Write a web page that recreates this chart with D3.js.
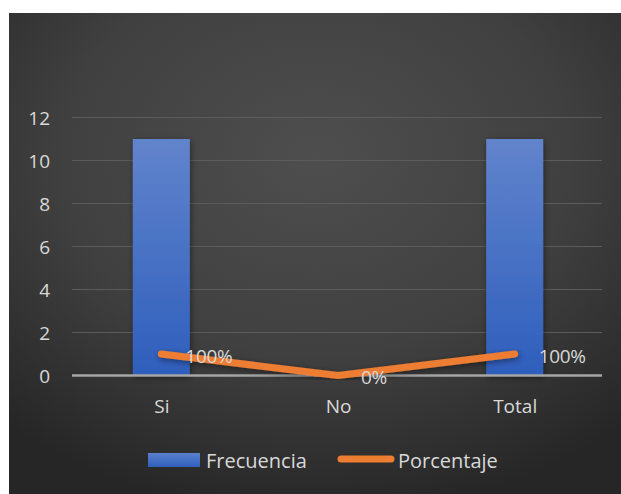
<!DOCTYPE html>
<html>
<head>
<meta charset="utf-8">
<script src="https://cdn.jsdelivr.net/npm/d3@7"></script>
<style>
  html, body { margin: 0; padding: 0; background: #ffffff; }
  svg { display: block; }
  text { font-family: "Open Sans", "Noto Sans", "DejaVu Sans", sans-serif; }
</style>
</head>
<body>
<svg id="chart" width="621" height="494"></svg>
<script>
// Data
const categories = ["Si", "No", "Total"];
const frecuencia = [11, 0, 11];
const porcentaje = [1, 0, 1];
const porcentajeLabels = ["100%", "0%", "100%"];
const yTicks = [0, 2, 4, 6, 8, 10, 12];
const seriesNames = ["Frecuencia", "Porcentaje"];

const svg = d3.select("#chart");
const W = 621, H = 494;

const defs = svg.append("defs");

// Background panel gradient: lighter in the upper middle, darker at the edges
const bg = defs.append("radialGradient").attr("id", "bgGrad")
  .attr("cx", "0.5").attr("cy", "0.3").attr("r", "0.75");
bg.append("stop").attr("offset", "0%").attr("stop-color", "#4e4e4e");
bg.append("stop").attr("offset", "55%").attr("stop-color", "#404040");
bg.append("stop").attr("offset", "100%").attr("stop-color", "#262626");

// Bar fill gradient
const barGrad = defs.append("linearGradient").attr("id", "barGrad")
  .attr("x1", 0).attr("y1", 0).attr("x2", 0).attr("y2", 1);
barGrad.append("stop").attr("offset", "0%").attr("stop-color", "#6184cc");
barGrad.append("stop").attr("offset", "100%").attr("stop-color", "#2e5ebc");

const legGrad = defs.append("linearGradient").attr("id", "legGrad")
  .attr("x1", 0).attr("y1", 0).attr("x2", 0).attr("y2", 1);
legGrad.append("stop").attr("offset", "0%").attr("stop-color", "#5b80cb");
legGrad.append("stop").attr("offset", "100%").attr("stop-color", "#2f5fbd");

// Soft drop shadow under marks
const sh = defs.append("filter").attr("id", "shadow")
  .attr("x", "-20%").attr("y", "-20%").attr("width", "140%").attr("height", "140%");
sh.append("feDropShadow").attr("dx", 1).attr("dy", 2).attr("stdDeviation", 3)
  .attr("flood-color", "#000").attr("flood-opacity", 0.45);

svg.append("rect").attr("x", 9).attr("y", 13).attr("width", W - 9).attr("height", H - 13)
  .attr("fill", "url(#bgGrad)");

// Scales
const plot = { left: 73, right: 603, top: 117.5, bottom: 375.5 };
const xc = d3.scalePoint().domain(categories).range([plot.left, plot.right]).padding(0.5);
const y = d3.scaleLinear().domain([0, 12]).range([plot.bottom, plot.top]);

// Gridlines
svg.append("g")
  .selectAll("line").data(yTicks.filter(d => d > 0)).join("line")
  .attr("x1", plot.left - 1).attr("x2", plot.right - 1)
  .attr("y1", d => y(d)).attr("y2", d => y(d))
  .attr("stroke", "#5c5c5c").attr("stroke-width", 1);

// Y axis labels
const yAxis = d3.axisLeft(y).tickValues(yTicks).tickSize(0).tickPadding(0);
const yg = svg.append("g").attr("transform", `translate(50,0)`).call(yAxis);
yg.select(".domain").remove();
yg.selectAll("text").attr("fill", "#d9d9d9").attr("font-size", 19).attr("text-anchor", "end").attr("dy", "0.35em");

// Bars
const bw = 57;
svg.append("g").selectAll("rect").data(categories).join("rect")
  .attr("x", (d, i) => xc(d) - bw / 2)
  .attr("y", (d, i) => y(frecuencia[i]))
  .attr("width", bw)
  .attr("height", (d, i) => y(0) - y(frecuencia[i]))
  .attr("fill", "url(#barGrad)")
  .attr("filter", "url(#shadow)");

// Baseline axis
svg.append("line").attr("x1", plot.left - 1).attr("x2", plot.right - 1)
  .attr("y1", y(0)).attr("y2", y(0))
  .attr("stroke", "#a6a6a6").attr("stroke-width", 2.5);

// X axis labels
const xAxis = d3.axisBottom(xc).tickSize(0).tickPadding(0);
const xg = svg.append("g").attr("transform", `translate(0,${y(0) + 31})`).call(xAxis);
xg.select(".domain").remove();
xg.selectAll("text").attr("fill", "#d9d9d9").attr("font-size", 19).attr("dy", "0.35em");

// Percentage line
const line = d3.line().x((d, i) => xc(categories[i])).y(d => y(d));
svg.append("path").datum(porcentaje)
  .attr("d", line)
  .attr("fill", "none").attr("stroke", "#ed7d31").attr("stroke-width", 7)
  .attr("stroke-linecap", "round").attr("stroke-linejoin", "round")
  .attr("filter", "url(#shadow)");

// Percentage labels
svg.append("g").selectAll("text").data(porcentaje).join("text")
  .attr("x", (d, i) => xc(categories[i]) + (d === 0 ? 23 : 24))
  .attr("y", (d, i) => y(d) + 2)
  .attr("dy", "0.35em")
  .attr("fill", "#d9d9d9").attr("font-size", 19)
  .attr("letter-spacing", -0.3)
  .text((d, i) => porcentajeLabels[i]);

// Legend
const leg = svg.append("g");
leg.append("rect").attr("x", 148).attr("y", 453).attr("width", 52).attr("height", 14)
  .attr("fill", "url(#legGrad)");
leg.append("text").attr("x", 206).attr("y", 461).attr("dy", "0.35em")
  .attr("fill", "#d9d9d9").attr("font-size", 20).text(seriesNames[0]);
leg.append("line").attr("x1", 341).attr("x2", 391).attr("y1", 459).attr("y2", 459)
  .attr("stroke", "#ed7d31").attr("stroke-width", 7).attr("stroke-linecap", "round");
leg.append("text").attr("x", 398).attr("y", 461).attr("dy", "0.35em")
  .attr("fill", "#d9d9d9").attr("font-size", 20).text(seriesNames[1]);
</script>
</body>
</html>
